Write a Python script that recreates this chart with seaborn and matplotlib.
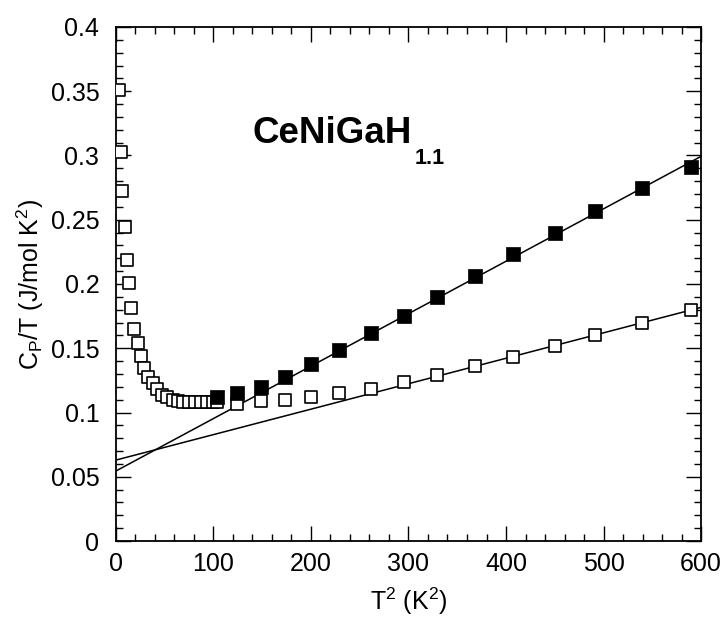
import matplotlib
matplotlib.use("Agg")
import matplotlib.pyplot as plt
import seaborn as sns
import numpy as np
import pandas as pd
from matplotlib.ticker import MultipleLocator, FuncFormatter

# ---- data ----
t2_open = [3, 5, 6, 9, 11, 13, 15, 19, 23, 26, 29, 33, 38, 42, 47, 52, 58, 64, 69, 75,
           81, 87, 93, 99, 104, 124, 149, 173, 200, 229, 262, 295, 329, 368, 407, 450,
           491, 539, 590]
cpt_open = [0.351, 0.303, 0.272, 0.244, 0.219, 0.201, 0.181, 0.165, 0.154, 0.144, 0.135,
            0.128, 0.123, 0.118, 0.114, 0.112, 0.110, 0.109, 0.108, 0.108, 0.108, 0.108,
            0.108, 0.108, 0.108, 0.107, 0.109, 0.110, 0.112, 0.115, 0.118, 0.124, 0.129,
            0.136, 0.143, 0.152, 0.160, 0.170, 0.180]
t2_filled = [104, 124, 149, 173, 200, 229, 262, 295, 329, 368, 407, 450, 491, 539, 590]
cpt_filled = [0.112, 0.115, 0.120, 0.128, 0.138, 0.149, 0.162, 0.175, 0.190, 0.206,
              0.223, 0.240, 0.257, 0.275, 0.291]
# linear fits: intercept, slope
fit_filled = (0.0545, 0.000408)
fit_open = (0.063, 0.000198)
x_range = [0, 600]
y_range = [0, 0.4]

sns.set_style("ticks")
plt.rcParams['font.family'] = ['Liberation Sans', 'DejaVu Sans']
plt.rcParams['mathtext.fontset'] = 'custom'
plt.rcParams['mathtext.rm'] = 'Liberation Sans'
plt.rcParams['mathtext.it'] = 'Liberation Sans'
plt.rcParams['mathtext.bf'] = 'Liberation Sans:bold'
plt.rcParams['text.color'] = 'black'
plt.rcParams['axes.labelcolor'] = 'black'
plt.rcParams['xtick.color'] = 'black'
plt.rcParams['ytick.color'] = 'black'

fig = plt.figure(figsize=(7.23, 6.23), dpi=100)
ax = fig.add_axes([0.1604, 0.1316, 0.9696 - 0.1604, 0.9567 - 0.1316])

df_open = pd.DataFrame({"T2": t2_open, "CpT": cpt_open})
df_filled = pd.DataFrame({"T2": t2_filled, "CpT": cpt_filled})

xs = np.array(x_range, dtype=float)
for b, m in (fit_filled, fit_open):
    sns.lineplot(x=xs, y=b + m * xs, ax=ax, color="black", linewidth=1.1, zorder=2)

sns.scatterplot(data=df_open, x="T2", y="CpT", ax=ax, marker="s", s=80,
                facecolor="white", edgecolor="black", linewidth=1.2, zorder=3)
sns.scatterplot(data=df_filled, x="T2", y="CpT", ax=ax, marker="s", s=100,
                color="black", edgecolor="black", linewidth=0.5, zorder=4)

ax.set_xlim(*x_range)
ax.set_ylim(*y_range)
ax.xaxis.set_major_locator(MultipleLocator(100))
ax.xaxis.set_minor_locator(MultipleLocator(20))
ax.yaxis.set_major_locator(MultipleLocator(0.05))
ax.yaxis.set_minor_locator(MultipleLocator(0.01))
ax.yaxis.set_major_formatter(FuncFormatter(lambda v, p: f"{v:g}" if abs(v) > 1e-9 else "0"))

ax.tick_params(which="both", direction="in", top=True, right=True, width=1.0,
               labelsize=18, colors="black")
ax.tick_params(which="major", length=11)
ax.tick_params(which="minor", length=5)
ax.tick_params(axis="y", which="major", pad=12)
ax.tick_params(axis="x", which="major", pad=8)
for sp in ax.spines.values():
    sp.set_visible(True)
    sp.set_linewidth(1.3)
    sp.set_color("black")

ax.set_xlabel(r"T$^2$ (K$^2$)", fontsize=18, labelpad=7, color="black")
ax.set_ylabel(r"C$_P$/T (J/mol K$^2$)", fontsize=18, labelpad=3, color="black")

main = ax.text(140.5, 0.3097, "CeNiGaH", fontsize=26.5, fontweight="bold",
               va="baseline", ha="left", color="black")
ax.text(306.0, 0.2937, "1.1", fontsize=15.5, fontweight="bold",
        va="baseline", ha="left", color="black")

fig.savefig("out.png", dpi=100)
